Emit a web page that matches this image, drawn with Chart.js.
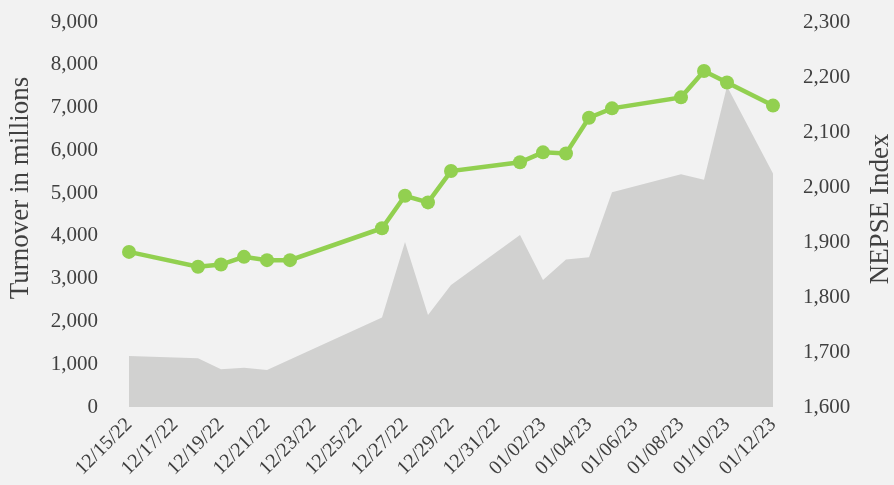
<!DOCTYPE html>
<html>
<head>
<meta charset="utf-8">
<script src="https://cdn.jsdelivr.net/npm/chart.js@4"></script>
<style>
  html, body { margin: 0; padding: 0; background: #f2f2f2; }
  #wrap { width: 894px; height: 485px; }
</style>
</head>
<body>
<div id="wrap"><canvas id="nepseChart"></canvas></div>
<script>
// every calendar day on the x axis (only every other one is labelled)
const dayLabels = [
  '12/15/22', '12/16/22', '12/17/22', '12/18/22', '12/19/22', '12/20/22', '12/21/22',
  '12/22/22', '12/23/22', '12/24/22', '12/25/22', '12/26/22', '12/27/22', '12/28/22',
  '12/29/22', '12/30/22', '12/31/22', '01/01/23', '01/02/23', '01/03/23', '01/04/23',
  '01/05/23', '01/06/23', '01/07/23', '01/08/23', '01/09/23', '01/10/23', '01/11/23',
  '01/12/23'
];

// trading days
const tradeDates = [
  '12/15/22', '12/18/22', '12/19/22', '12/20/22', '12/21/22', '12/22/22', '12/26/22',
  '12/27/22', '12/28/22', '12/29/22', '01/01/23', '01/02/23', '01/03/23', '01/04/23',
  '01/05/23', '01/08/23', '01/09/23', '01/10/23', '01/12/23'
];

const turnover = [1190, 1140, 880, 920, 865, 1110, 2090, 3860, 2150, 2850, 4020,
  2970, 3450, 3500, 5020, 5440, 5310, 7500, 5460];

const nepse = [1882, 1855, 1859, 1873, 1867, 1867, 1925, 1984, 1972, 2029, 2045,
  2063, 2061, 2126, 2143, 2163, 2211, 2190, 2148];

const leftTicks = { min: 0, max: 9000, step: 1000 };
const rightTicks = { min: 1600, max: 2300, step: 100 };

const font = 'Liberation Serif';
const textColor = '#404040';

// both axis titles read bottom-to-top, so draw them ourselves
const axisTitles = {
  id: 'axisTitles',
  afterDraw(chart) {
    const c = chart.ctx;
    c.save();
    c.fillStyle = textColor;
    c.font = '27px "' + font + '"';
    c.textAlign = 'center';
    c.textBaseline = 'middle';
    [['Turnover in millions', 21, 188], ['NEPSE Index', 881, 209]].forEach(([t, x, y]) => {
      c.save();
      c.translate(x, y);
      c.rotate(-Math.PI / 2);
      c.fillText(t, 0, 0);
      c.restore();
    });
    c.restore();
  }
};

const fixY = (w) => (s) => {
  s.width = w;
  s.paddingTop = 0;
  s.paddingBottom = 0;
};

document.addEventListener('DOMContentLoaded', () => {
  const ctx = document.getElementById('nepseChart').getContext('2d');
  new Chart(ctx, {
    type: 'line',
    data: {
      labels: dayLabels,
      datasets: [{
        label: 'NEPSE Index',
        data: tradeDates.map((d, i) => ({ x: d, y: nepse[i] })),
        yAxisID: 'y1',
        borderColor: '#92d050',
        backgroundColor: '#92d050',
        borderWidth: 4.5,
        pointRadius: 7,
        pointHoverRadius: 7,
        pointBorderWidth: 0,
        tension: 0,
        order: 0
      }, {
        label: 'Turnover',
        data: tradeDates.map((d, i) => ({ x: d, y: turnover[i] })),
        yAxisID: 'y',
        borderWidth: 0,
        borderColor: '#d1d1d0',
        backgroundColor: '#d1d1d0',
        fill: 'origin',
        pointRadius: 0,
        tension: 0,
        order: 1
      }]
    },
    options: {
      responsive: true,
      maintainAspectRatio: false,
      animation: false,
      layout: { padding: { top: 22, left: 0, right: 0, bottom: 0 } },
      plugins: {
        legend: { display: false },
        tooltip: { enabled: false }
      },
      scales: {
        x: {
          type: 'category',
          offset: false,
          grid: { display: false, drawTicks: false },
          border: { display: false },
          ticks: {
            autoSkip: false,
            minRotation: 45,
            maxRotation: 45,
            padding: 6,
            color: textColor,
            font: { family: font, size: 20 },
            callback: (v, i) => (i % 2 === 0 ? dayLabels[i] : '')
          },
          afterFit: (s) => { s.height = 78; }
        },
        y: {
          position: 'left',
          min: leftTicks.min,
          max: leftTicks.max,
          grid: { display: false, drawTicks: false },
          border: { display: false },
          ticks: {
            stepSize: leftTicks.step,
            padding: 31,
            color: textColor,
            font: { family: font, size: 21 },
            callback: (v) => v.toLocaleString('en-US')
          },
          afterFit: fixY(129)
        },
        y1: {
          position: 'right',
          min: rightTicks.min,
          max: rightTicks.max,
          grid: { display: false, drawTicks: false },
          border: { display: false },
          ticks: {
            stepSize: rightTicks.step,
            padding: 30,
            color: textColor,
            font: { family: font, size: 21 },
            callback: (v) => v.toLocaleString('en-US')
          },
          afterFit: fixY(121)
        }
      }
    },
    plugins: [axisTitles]
  });
});
</script>
</body>
</html>
